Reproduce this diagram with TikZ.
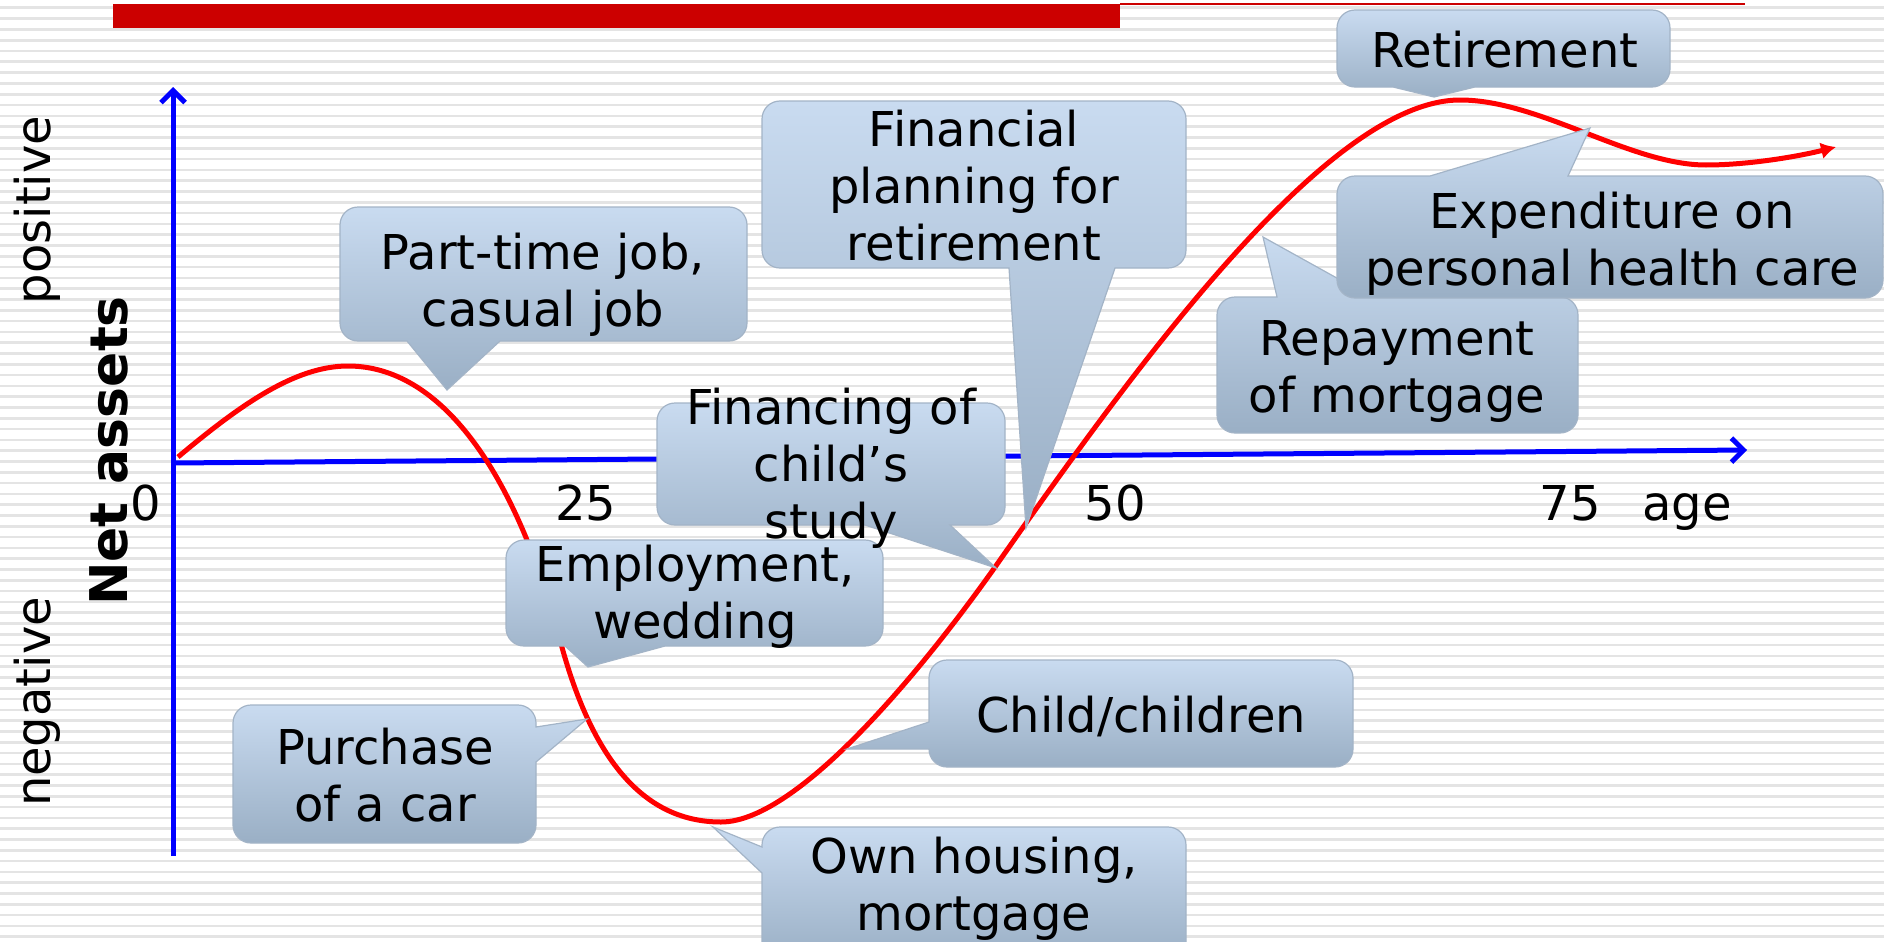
\documentclass[tikz,border=0pt]{standalone}
\usepackage{fontspec}
\setmainfont{DejaVu Sans}
\usetikzlibrary{arrows.meta}
\definecolor{cTop}{HTML}{C9DBF0}
\definecolor{cBot}{HTML}{9AAFC5}
\definecolor{cEdge}{HTML}{A3B4C7}
\definecolor{stripegray}{HTML}{E4E4E4}
\definecolor{barred}{HTML}{CC0000}
\definecolor{axisblue}{HTML}{0000FF}
\definecolor{curvered}{HTML}{FF0000}
\newcommand\sst{\rule[-12pt]{0pt}{56pt}}
\tikzset{cbox/.style={top color=cTop, bottom color=cBot, draw=cEdge, line width=1.2pt}}
\newcommand\callout[8]{%
  \shade[cbox] (#1+18,#2) #5 -- (#3-18,#2)
    arc[start angle=-90,end angle=0,radius=18] #6 -- (#3,#4-18)
    arc[start angle=0,end angle=90,radius=18] #7 -- (#1+18,#4)
    arc[start angle=90,end angle=180,radius=18] #8 -- (#1,#2+18)
    arc[start angle=180,end angle=270,radius=18] -- cycle;}
\begin{document}
\begin{tikzpicture}[x=1pt,y=-1pt,
  txt/.style={font=\fontsize{48}{57}\selectfont, align=center, inner sep=0pt, text=black},
  axisline/.style={draw=axisblue, line width=5pt, -{Straight Barb[length=12pt,width=24pt]}},
  lifecurve/.style={draw=curvered, line width=5pt, -{Latex[length=15pt,width=17pt]}}]
\useasboundingbox (0,0) rectangle (1884,942);
\fill[white] (0,0) rectangle (1884,942);
\foreach \k in {0,...,87} {\fill[stripegray] (0,{6.5+10.8*\k}) rectangle (1884,{9.2+10.8*\k});}
% top bar
\fill[barred] (113,4) rectangle (1120,28);
\draw[barred, line width=1.5pt] (1120,4) -- (1745,4);
% axes
\coordinate (ybot) at (173,856);
\coordinate (ytop) at (173,87);
\coordinate (xleft) at (173,463);
\coordinate (xright) at (1747,450);
\draw[axisline] (ybot) -- (ytop);
\draw[axisline] (xleft) -- (xright);
% curve
\coordinate (cstart) at (178,457);
\coordinate (cend) at (1836,147);
\draw[lifecurve] (cstart) .. controls (240,405) and (295,366) .. (348,366)
  .. controls (440,366) and (515,470) .. (560,640)
  .. controls (590,753) and (640,822) .. (721,822)
  .. controls (800,822) and (930,660) .. (1000,560)
  .. controls (1140,360) and (1330,100) .. (1460,100)
  .. controls (1540,100) and (1630,165) .. (1706,165)
  .. controls (1750,165) and (1800,156) .. (cend);
% axis labels
\node[txt, rotate=90, anchor=base] (pos) at (50,210) {positive};
\node[txt, rotate=90, anchor=base] (neg) at (50,702) {negative};
\node[font=\fontsize{52}{60}\selectfont\bfseries, rotate=90, anchor=base, inner sep=0pt] (net) at (127,451) {Net assets};
\node[txt, anchor=base] (t0) at (146,520) {0};
\node[txt, anchor=base] (t25) at (586,520) {25};
\node[txt, anchor=base] (t50) at (1115,520) {50};
\node[txt, anchor=base] (t75) at (1570,520) {75};
\node[txt, anchor=base] (tage) at (1687,520) {age};
% callouts
\callout{340}{207}{747}{341}{}{}{-- (500,341) -- (447,390) -- (407,341)}{}
\node[txt] (parttime) at (543,281.5) {\sst Part-time job,\\\sst casual job};
\callout{762}{101}{1186}{268}{}{}{-- (1115,268) -- (1026,528) -- (1009,268)}{}
\node[txt] (planning) at (974,187) {\sst Financial\\\sst planning for\\\sst retirement};
\callout{1337}{10}{1670}{87}{}{}{-- (1475,87) -- (1434,97) -- (1393,87)}{}
\node[txt, anchor=base] (retire) at (1505,67) {Retirement};
\callout{1217}{297}{1578}{433}{-- (1277,297) -- (1263,237) -- (1371,297)}{}{}{}
\node[txt] (repay) at (1397,367.5) {\sst Repayment\\\sst of mortgage};
\callout{1337}{176}{1883}{298}{-- (1430,176) -- (1590,128) -- (1568,176)}{}{}{}
\node[txt] (health) at (1612,240.5) {\sst Expenditure on\\\sst personal health care};
\callout{506}{540}{883}{646}{}{}{-- (665,646) -- (588,667) -- (565,646)}{}
\node[txt] (employ) at (695,594) {\sst Employment,\\\sst wedding};
\callout{657}{403}{1005}{525}{}{}{-- (950,525) -- (996,568) -- (865,525)}{}
\node[txt] (study) at (831,465.5) {\sst Financing of\\\sst child’s\\\sst study};
\callout{233}{705}{536}{843}{}{-- (536,727) -- (587,719) -- (536,762)}{}{}
\node[txt] (car) at (385,776.5) {\sst Purchase\\\sst of a car};
\callout{929}{660}{1353}{767}{}{}{}{-- (929,749) -- (847,749) -- (929,722)}
\node[txt, anchor=base] (child) at (1141,732) {Child/children};
\callout{762}{827}{1186}{960}{}{}{}{-- (762,873) -- (713,827) -- (762,847)}
\node[txt] (housing) at (974,885.5) {\sst Own housing,\\\sst mortgage};
\end{tikzpicture}
\end{document}
